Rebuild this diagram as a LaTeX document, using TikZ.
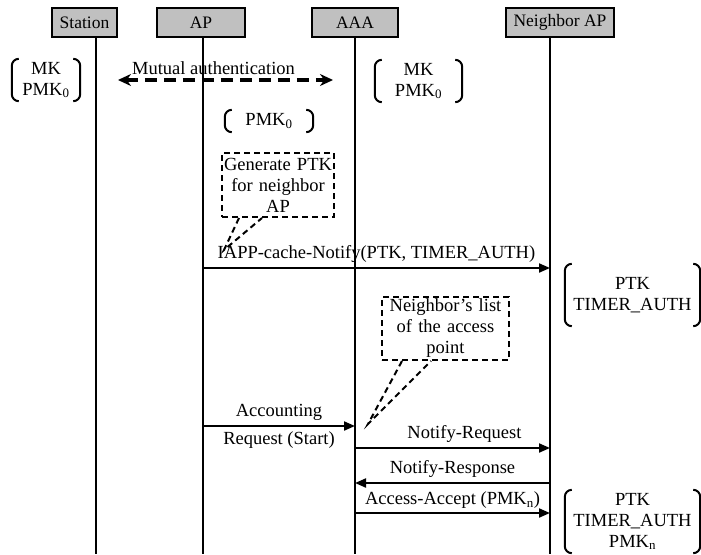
\documentclass[tikz,border=0pt]{standalone}
\usepackage{fontspec}
\setmainfont{Liberation Serif}
\usetikzlibrary{arrows.meta}

\definecolor{hdrgray}{RGB}{192,192,192}

\tikzset{
  head/.style={draw, line width=2pt, fill=hdrgray, minimum height=29pt,
    inner sep=0pt, font=\fontsize{17.5}{20}\selectfont},
  life/.style={line width=2pt},
  msg/.style={line width=2pt, -{Triangle[length=11pt,width=9pt]}},
  note/.style={draw, line width=2pt, dash pattern=on 6pt off 4pt,
    align=center, inner sep=0pt},
  tail/.style={line width=2pt, dash pattern=on 6pt off 4pt},
  keys/.style={align=center, inner sep=0pt},
  brk/.style={line width=2pt}
}

% round brackets on both sides of a key node
\newcommand{\keybrackets}[1]{%
  \draw[brk] ([xshift=7pt]#1.north west) to[out=180,in=90] ([yshift=-7pt]#1.north west)
    -- ([yshift=7pt]#1.south west) to[out=-90,in=180] ([xshift=7pt]#1.south west);
  \draw[brk] ([xshift=-7pt]#1.north east) to[out=0,in=90] ([yshift=-7pt]#1.north east)
    -- ([yshift=7pt]#1.south east) to[out=-90,in=0] ([xshift=-7pt]#1.south east);}

\begin{document}
\begin{tikzpicture}[x=1pt, y=-1pt, font=\fontsize{18.5}{21}\selectfont]
  \useasboundingbox (0,0) rectangle (701,554);

  % entities
  \node[head, minimum width=65pt] (sta) at (84.5,22.5) {Station};
  \node[head, minimum width=88pt] (ap) at (201,22.5) {AP};
  \node[head, minimum width=86pt] (aaa) at (355,22.5) {AAA};
  \node[head, minimum width=108pt] (nap) at (560,22.5) {Neighbor AP};

  % lifelines
  \coordinate (sta-e) at (96,554);
  \coordinate (ap-e) at (203,554);
  \coordinate (aaa-e) at (355,554);
  \coordinate (nap-e) at (550,554);
  \foreach \n in {sta,ap,aaa,nap}
    \draw[life] (\n.south -| \n-e) -- (\n-e);

  % keys held
  \node[keys, minimum width=68pt, minimum height=42pt] (k1) at (46,80) {MK\\PMK\textsubscript{0}};
  \node[keys, minimum width=87pt, minimum height=42pt] (k2) at (418.5,81) {MK\\PMK\textsubscript{0}};
  \node[keys, minimum width=88pt, minimum height=22pt] (k3) at (269,121) {PMK\textsubscript{0}};
  \node[keys, minimum width=135pt, minimum height=62pt] (k4) at (632.5,295) {PTK\\TIMER\_AUTH};
  \node[keys, minimum width=135pt, minimum height=63pt] (k5) at (632.5,521.5) {PTK\\TIMER\_AUTH\\PMK\textsubscript{n}};
  \foreach \k in {k1,k2,k3,k4,k5}
    {\keybrackets{\k}}

  % mutual authentication
  \coordinate (ma-l) at (118,80);
  \coordinate (ma-r) at (333,80);
  \draw[line width=3.5pt, dash pattern=on 12pt off 7pt,
    {Stealth[length=13pt,width=12pt]}-{Stealth[length=13pt,width=12pt]}]
    (ma-l) -- (ma-r) node[midway, above=0pt, xshift=-12pt] {Mutual authentication};

  % notes
  \node[note, text width=112pt, minimum height=64pt] (gen) at (278,185)
    {Generate PTK\\for neighbor\\AP};
  \coordinate (gen-t) at (224,250);
  \draw[tail] ([xshift=18pt]gen.south west) -- (gen-t) -- ([xshift=41pt]gen.south west);

  \node[note, text width=127pt, minimum height=63pt] (nbr) at (445.5,328.5)
    {Neighbor’s list\\of the access\\point};
  \coordinate (nbr-t) at (368,424);
  \draw[tail] ([xshift=21pt]nbr.south west) -- (nbr-t) -- ([xshift=50pt]nbr.south west);

  % messages
  \draw[msg] (ap-e |- 0,268) -- (nap-e |- 0,268)
    node[midway, above=1pt] {IAPP-cache-Notify(PTK, TIMER\_AUTH)};
  \draw[msg] (ap-e |- 0,426) -- (aaa-e |- 0,426)
    node[midway, above=1pt] {Accounting}
    node[midway, below=1pt] {Request (Start)};
  \draw[msg] (aaa-e |- 0,448) -- (nap-e |- 0,448)
    node[midway, above=1pt, xshift=12pt] {Notify-Request};
  \draw[msg] (nap-e |- 0,483) -- (aaa-e |- 0,483)
    node[midway, above=1pt] {Notify-Response};
  \draw[msg] (aaa-e |- 0,513) -- (nap-e |- 0,513)
    node[midway, above=0pt] {Access-Accept (PMK\textsubscript{n})};
\end{tikzpicture}
\end{document}
